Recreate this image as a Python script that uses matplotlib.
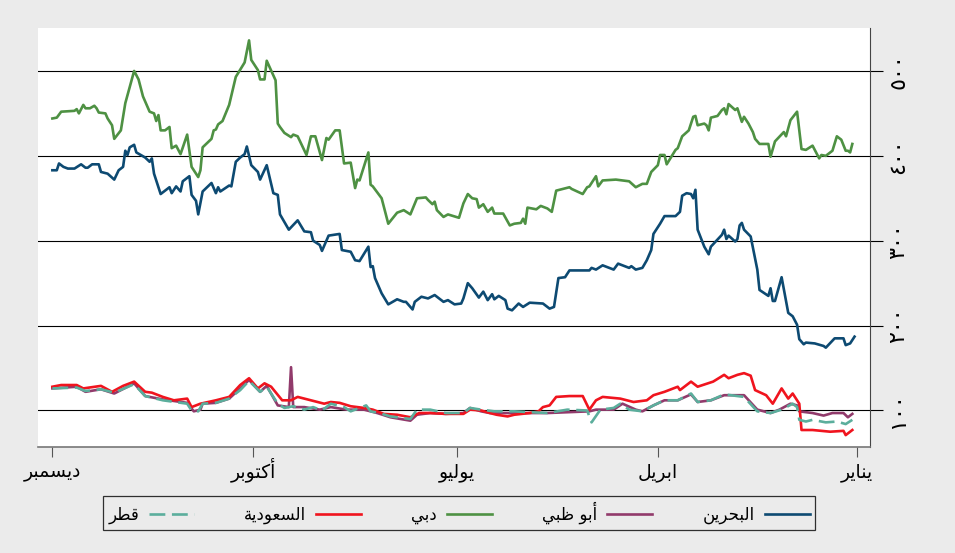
import matplotlib
matplotlib.use("Agg")
import matplotlib.pyplot as plt
from matplotlib.lines import Line2D

# البيانات: اليوم من بداية السنة (المحور معكوس) ونقاط الأساس
bahrain_days = [364, 362, 361, 359, 357, 354, 351, 349, 348, 346, 343, 342, 339, 336, 334, 332, 331, 330,
                329, 327, 326, 324, 322, 320, 319, 318, 315, 311, 310, 308, 306, 305, 302, 301, 299, 298,
                296, 292, 290, 289, 288, 284, 283, 281, 279, 277, 276, 274, 271, 270, 267, 264, 262, 261,
                257, 253, 250, 247, 246, 243, 242, 239, 234, 233, 229, 227, 225, 221, 220, 219, 218, 215,
                212, 208, 205, 204, 201, 200, 197, 194, 191, 187, 185, 182, 179, 178, 176, 174, 171, 169,
                167, 165, 164, 162, 159, 158, 156, 153, 151, 148, 142, 139, 137, 135, 132, 130, 121, 120,
                118, 115, 110, 108, 103, 102, 100, 97, 95, 93, 92, 89, 87, 82, 80, 79, 77, 75, 74, 73,
                72, 69, 67, 66, 61, 60, 59, 58, 55, 54, 53, 52, 51, 48, 45, 44, 40, 39, 38, 37, 34, 31,
                29, 27, 26, 24, 23, 19, 15, 14, 10, 6, 5, 3, 1]
bahrain = [383, 383, 391, 387, 385, 385, 390, 386, 386, 390, 390, 381, 379, 372, 383, 387, 406, 401,
           410, 413, 404, 401, 398, 393, 397, 379, 355, 363, 356, 364, 358, 370, 376, 354, 347, 331,
           358, 368, 356, 363, 358, 365, 364, 393, 398, 402, 411, 389, 381, 372, 389, 356, 354, 331,
           313, 324, 311, 310, 300, 295, 288, 306, 308, 289, 287, 277, 276, 293, 269, 270, 256, 238,
           225, 231, 228, 228, 219, 228, 234, 232, 236, 228, 230, 225, 226, 232, 250, 244, 233, 240,
           230, 237, 231, 235, 230, 220, 218, 226, 222, 227, 226, 220, 222, 256, 257, 265, 265, 268,
           266, 271, 266, 273, 268, 270, 266, 268, 277, 289, 308, 320, 329, 329, 334, 353, 356, 355,
           350, 360, 313, 293, 284, 293, 307, 313, 302, 306, 299, 302, 318, 321, 313, 305, 266, 242,
           235, 244, 229, 229, 257, 215, 211, 201, 184, 178, 180, 179, 176, 174, 185, 185, 177, 179, 187]

dubai_days = [364, 362, 360, 354, 353, 352, 350, 349, 347, 345, 344, 343, 340, 339, 337, 336, 333, 331,
              327, 325, 323, 320, 318, 317, 316, 315, 313, 311, 310, 308, 306, 303, 301, 298, 297, 296,
              292, 291, 290, 289, 287, 284, 281, 277, 275, 274, 271, 270, 268, 267, 263, 262, 261, 259,
              256, 255, 253, 249, 247, 245, 242, 240, 239, 236, 234, 232, 229, 227, 226, 225, 221, 220,
              219, 215, 212, 208, 205, 202, 199, 195, 194, 192, 191, 190, 187, 185, 180, 178, 176, 174,
              172, 171, 169, 167, 165, 164, 160, 157, 155, 152, 151, 150, 149, 145, 143, 140, 138, 136,
              133, 130, 129, 124, 122, 121, 118, 117, 115, 109, 103, 100, 97, 95, 93, 90, 89, 87, 86,
              82, 81, 79, 76, 74, 73, 72, 69, 68, 67, 66, 63, 61, 60, 59, 58, 55, 54, 52, 51, 49, 47,
              46, 44, 40, 39, 37, 33, 32, 30, 27, 25, 23, 20, 17, 16, 14, 11, 9, 7, 5, 4, 3, 2]
dubai = [444, 445, 452, 453, 455, 450, 460, 456, 456, 459, 456, 451, 450, 444, 436, 420, 430, 462,
         500, 490, 470, 452, 450, 441, 448, 430, 430, 434, 409, 412, 402, 425, 387, 375, 383, 410,
         420, 430, 431, 437, 441, 460, 493, 510, 536, 513, 501, 490, 490, 512, 489, 438, 434, 427,
         422, 425, 423, 401, 423, 423, 395, 421, 419, 430, 430, 391, 392, 362, 372, 371, 404, 366,
         364, 350, 320, 333, 336, 331, 350, 351, 348, 343, 346, 336, 328, 331, 327, 344, 355, 350,
         349, 339, 343, 334, 339, 332, 332, 318, 320, 321, 326, 320, 339, 337, 341, 338, 334, 359,
         361, 363, 361, 355, 363, 364, 376, 364, 371, 372, 370, 363, 367, 367, 381, 389, 401, 401, 390,
         407, 409, 423, 430, 446, 447, 436, 438, 436, 430, 445, 447, 454, 456, 449, 461, 454, 456, 440,
         446, 438, 428, 420, 414, 414, 399, 417, 428, 423, 442, 452, 408, 407, 412, 397, 401, 400,
         406, 423, 419, 406, 406, 404, 414]

saudi_days = [364, 360, 353, 350, 342, 337, 332, 327, 322, 319, 314, 309, 303, 301, 297, 290, 284, 279,
              275, 271, 268, 265, 260, 256, 253, 247, 241, 238, 234, 229, 223, 219, 214, 208, 202, 198,
              193, 186, 178, 175, 170, 166, 163, 158, 155, 148, 144, 142, 139, 136, 130, 124, 121, 118,
              115, 107, 101, 95, 92, 87, 81, 80, 75, 72, 65, 60, 58, 54, 51, 48, 46, 41, 38, 34, 31,
              29, 26, 25, 20, 12, 6, 5, 2]
saudi = [128, 130, 130, 126, 129, 122, 129, 134, 122, 121, 116, 112, 114, 104, 108, 112, 116, 130,
         138, 126, 132, 128, 112, 112, 116, 112, 108, 110, 109, 105, 103, 101, 96, 95, 92, 97,
         97, 96, 96, 101, 100, 97, 95, 93, 95, 97, 99, 104, 106, 116, 117, 117, 101, 112,
         116, 114, 110, 112, 118, 122, 128, 124, 134, 128, 134, 142, 138, 142, 144, 141, 124, 118, 108, 126, 114,
         120, 108, 77, 77, 75, 76, 71, 77]

abudhabi_days = [364, 353, 349, 342, 336, 327, 322, 314, 303, 300, 297, 296, 290, 284, 279, 275, 270, 267,
                 262, 257, 256, 255, 250, 243, 238, 231, 223, 217, 211, 202, 199, 193, 186, 178, 175, 170,
                 166, 155, 140, 121, 118, 110, 106, 100, 97, 92, 87, 81, 75, 72, 66, 60, 51, 45, 39, 35,
                 30, 27, 26, 20, 15, 11, 6, 4, 2]
abudhabi = [126, 128, 122, 125, 120, 132, 117, 113, 109, 99, 101, 108, 109, 114, 126, 136, 122, 129,
            106, 104, 151, 104, 104, 101, 104, 101, 101, 97, 92, 88, 95, 97, 96, 97, 103, 99,
            97, 97, 97, 99, 101, 101, 108, 101, 99, 106, 112, 112, 119, 110, 112, 118, 118, 101, 97, 101,
            108, 106, 99, 97, 94, 97, 97, 92, 96]

qatar_days = [364, 353, 349, 342, 336, 327, 322, 314, 303, 301, 298, 296, 290, 284, 279, 275, 270, 267,
              262, 259, 255, 250, 246, 242, 238, 232, 229, 222, 220, 216, 211, 202, 199, 193, 186, 178,
              175, 170, 164, 155, 140, 131, 122, 120, 116, 110, 107, 103, 97, 92, 87, 81, 75, 72, 66,
              60, 51, 45, 39, 34, 29, 27, 26, 23, 20, 14, 9, 5, 2]
qatar = [126, 127, 123, 125, 121, 131, 117, 112, 108, 100, 99, 108, 109, 114, 124, 135, 122, 128,
         108, 103, 105, 101, 104, 100, 108, 104, 99, 106, 99, 97, 93, 90, 101, 101, 97, 97,
         103, 101, 99, 99, 97, 101, 100, 86, 101, 103, 108, 101, 99, 106, 112, 112, 120, 110, 112,
         119, 116, 99, 97, 101, 108, 104, 89, 87, 89, 86, 87, 84, 89]

month_ticks = [364, 273, 181, 90, 0]
month_labels = ["ديسمبر", "أكتوبر", "يوليو", "ابريل", "يناير"]
y_ticks = [100, 200, 300, 400, 500]
y_labels = ["١٠٠", "٢٠٠", "٣٠٠", "٤٠٠", "٥٠٠"]

# أشكال الحروف العربية: منفصل، نهائي، بداية، وسط
FORMS = {
    "ا": ("\uFE8D", "\uFE8E", None, None),
    "أ": ("\uFE83", "\uFE84", None, None),
    "ب": ("\uFE8F", "\uFE90", "\uFE91", "\uFE92"),
    "ة": ("\uFE93", "\uFE94", None, None),
    "ت": ("\uFE95", "\uFE96", "\uFE97", "\uFE98"),
    "ح": ("\uFEA1", "\uFEA2", "\uFEA3", "\uFEA4"),
    "د": ("\uFEA9", "\uFEAA", None, None),
    "ر": ("\uFEAD", "\uFEAE", None, None),
    "س": ("\uFEB1", "\uFEB2", "\uFEB3", "\uFEB4"),
    "ط": ("\uFEC1", "\uFEC2", "\uFEC3", "\uFEC4"),
    "ظ": ("\uFEC5", "\uFEC6", "\uFEC7", "\uFEC8"),
    "ع": ("\uFEC9", "\uFECA", "\uFECB", "\uFECC"),
    "ق": ("\uFED5", "\uFED6", "\uFED7", "\uFED8"),
    "ك": ("\uFED9", "\uFEDA", "\uFEDB", "\uFEDC"),
    "ل": ("\uFEDD", "\uFEDE", "\uFEDF", "\uFEE0"),
    "م": ("\uFEE1", "\uFEE2", "\uFEE3", "\uFEE4"),
    "ن": ("\uFEE5", "\uFEE6", "\uFEE7", "\uFEE8"),
    "و": ("\uFEED", "\uFEEE", None, None),
    "ي": ("\uFEF1", "\uFEF2", "\uFEF3", "\uFEF4"),
}


def ar(text):
    # وصل الحروف وعكس الترتيب للعرض من اليمين لليسار
    out = []
    for i, ch in enumerate(text):
        if ch not in FORMS:
            out.append(ch)
            continue
        prev = text[i - 1] if i > 0 else ""
        nxt = text[i + 1] if i + 1 < len(text) else ""
        jp = prev in FORMS and FORMS[prev][2] is not None
        jn = FORMS[ch][2] is not None and nxt in FORMS
        iso, fin, ini, med = FORMS[ch]
        if jp and jn:
            out.append(med)
        elif jp:
            out.append(fin)
        elif jn:
            out.append(ini)
        else:
            out.append(iso)
    return "".join(reversed(out))


BG = "#EBEBEB"
plt.rcParams["font.family"] = ["DejaVu Sans"]

fig = plt.figure(figsize=(9.55, 5.53), dpi=100, facecolor=BG)
ax = fig.add_axes([0.0398, 0.1917, 0.8712, 0.7583])
ax.set_facecolor("white")

series = [
    (bahrain_days, bahrain, "البحرين", "#0D4A72", "-"),
    (abudhabi_days, abudhabi, "أبو ظبي", "#913A6B", "-"),
    (dubai_days, dubai, "دبي", "#4E9143", "-"),
    (saudi_days, saudi, "السعودية", "#F0141E", "-"),
    (qatar_days, qatar, "قطر", "#5BAE9C", "--"),
]
handles = []
for d, v, name, col, ls in series:
    line, = ax.plot(d, v, color=col, lw=1.9, ls=ls, zorder=3)
    if ls == "--":
        line.set_dashes((6, 2.5))
    handles.append(Line2D([], [], color=col, lw=1.9, ls=ls, dashes=(6, 2.5) if ls == "--" else (None, None),
                          label=ar(name)))

ax.set_xlim(370.5, -6.0)
ax.set_ylim(57, 551)

for y in y_ticks:
    ax.axhline(y, color="black", lw=0.8, zorder=1)

ax.yaxis.tick_right()
ax.set_yticks(y_ticks)
ax.set_yticklabels(y_labels, rotation=90, va="center", fontsize=16)
ax.tick_params(axis="y", length=9, width=0.8, color="black", pad=4)

ax.set_xticks(month_ticks)
ax.set_xticklabels([ar(m) for m in month_labels], fontsize=13.5)
for lab in ax.get_xticklabels():
    lab.set_va("baseline")
ax.tick_params(axis="x", length=7.5, width=0.8, color="#555555", pad=14)

for s in ["top", "left"]:
    ax.spines[s].set_visible(False)
ax.spines["right"].set_color("#444444")
ax.spines["bottom"].set_color("#777777")
ax.spines["bottom"].set_linewidth(1.2)

# المفتاح: من اليمين لليسار
leg = fig.legend(handles=handles[::-1], loc="upper center", bbox_to_anchor=(0.4806, 0.1036),
                 ncol=5, markerfirst=False, frameon=True, fancybox=False, fontsize=12,
                 handlelength=2.7, columnspacing=3.0, handletextpad=0.6, borderpad=0.35,
                 borderaxespad=0)
leg.get_frame().set_edgecolor("black")
leg.get_frame().set_facecolor(BG)
leg.get_frame().set_linewidth(0.9)

plt.savefig("out.png", dpi=100, facecolor=BG)
